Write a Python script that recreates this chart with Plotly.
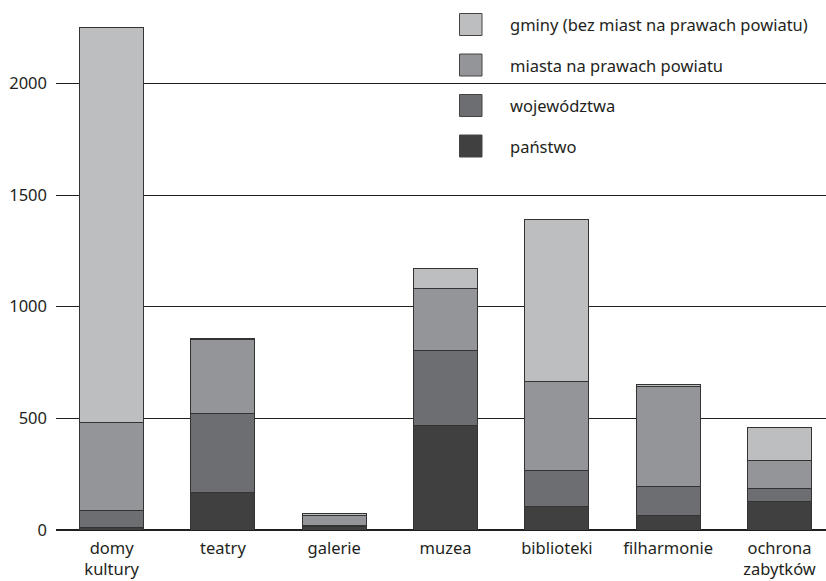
import plotly.graph_objects as go

categories = ["domy<br>kultury", "teatry", "galerie", "muzea", "biblioteki", "filharmonie", "ochrona<br>zabytków"]
series_names = ["państwo", "województwa", "miasta na prawach powiatu", "gminy (bez miast na prawach powiatu)"]
panstwo = [10, 170, 15, 466, 105, 64, 127]
wojewodztwa = [78, 353, 6, 337, 163, 129, 61]
miasta = [392, 330, 43, 279, 398, 451, 124]
gminy = [1770, 5, 8, 89, 723, 6, 148]
tick_vals = [0, 500, 1000, 1500, 2000]
tick_text = ["0", "500", "1000", "1500", "2000"]

colors = ["#404041", "#6d6e71", "#939598", "#bcbec0"]
series = [panstwo, wojewodztwa, miasta, gminy]

FONT = "Noto Sans"
FS = 16.5

fig = go.Figure()
for name, vals, col in zip(series_names, series, colors):
    fig.add_trace(go.Bar(
        x=list(range(len(categories))), y=vals, name=name,
        marker=dict(color=col, line=dict(color="#333333", width=1)),
        showlegend=False,
    ))

# manual legend (top to bottom: gminy, miasta, województwa, państwo)
shapes = []
annotations = []
W, H = 826, 581
L, B, T = 56, 51, 5
PW, PH = W - L, H - B - T
row_y = [24.5, 65, 105.5, 146]
for i, idx in enumerate([3, 2, 1, 0]):
    cy = row_y[i]
    shapes.append(dict(type="rect", xref="paper", yref="paper",
                       x0=(459.5 - L) / PW, x1=(482 - L) / PW,
                       y0=(H - B - (cy + 11)) / PH, y1=(H - B - (cy - 11)) / PH,
                       fillcolor=colors[idx], line=dict(color="#444444", width=1), layer="above"))
    annotations.append(dict(xref="paper", yref="paper", x=(508 - L) / PW,
                            y=(H - B - cy) / PH, text=series_names[idx], showarrow=False,
                            xanchor="left", yanchor="middle",
                            font=dict(family=FONT, size=FS, color="#231f20")))

# white area behind legend hides the gridline there
shapes.append(dict(type="rect", xref="paper", yref="paper",
                   x0=(421 - L) / PW, x1=1.0, y0=(H - B - 170) / PH, y1=1.0,
                   fillcolor="white", line=dict(width=0), layer="between"))

fig.update_layout(
    width=W, height=H,
    margin=dict(l=L, r=0, t=T, b=B, autoexpand=False),
    paper_bgcolor="white", plot_bgcolor="white",
    barmode="stack", bargap=0.425,
    font=dict(family=FONT, size=FS, color="#231f20"),
    shapes=shapes, annotations=annotations,
    xaxis=dict(
        range=[-0.5, -0.5 + PW / 111.3], automargin=False,
        tickmode="array", tickvals=list(range(len(categories))), ticktext=categories,
        showgrid=False, showline=False, zeroline=False, ticks="",
        ticklabelstandoff=6,
        tickfont=dict(family=FONT, size=FS, color="#231f20"),
    ),
    yaxis=dict(
        range=[0, PH / 0.2233], automargin=False,
        tickmode="array", tickvals=tick_vals, ticktext=tick_text,
        showgrid=True, gridcolor="#231f20", gridwidth=1,
        zeroline=True, zerolinecolor="#231f20", zerolinewidth=1.5,
        showline=False, ticks="", ticklabelstandoff=8,
        tickfont=dict(family=FONT, size=FS, color="#231f20"),
    ),
)

fig.write_html("out.html", config={"displayModeBar": False},
               post_script="document.body.style.margin='0';")
